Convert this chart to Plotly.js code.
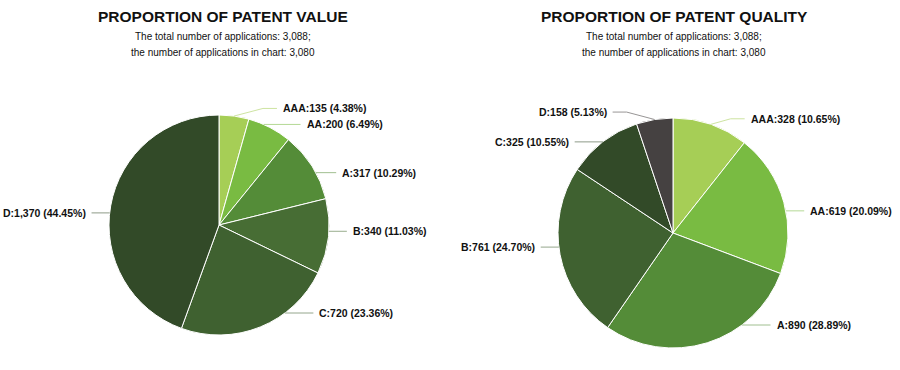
<!DOCTYPE html>
<html>
<head>
<meta charset="utf-8">
<script src="https://cdn.plot.ly/plotly-3.0.1.min.js"></script>
<style>html,body{margin:0;padding:0;background:#fff;}#chart{width:900px;height:370px;}</style>
</head>
<body>
<div id="chart"></div>
<script>
const categories = ['AAA', 'AA', 'A', 'B', 'C', 'D'];
const valueCounts = [135, 200, 317, 340, 720, 1370];
const valuePcts = ['4.38%', '6.49%', '10.29%', '11.03%', '23.36%', '44.45%'];
const qualityCounts = [328, 619, 890, 761, 325, 158];
const qualityPcts = ['10.65%', '20.09%', '28.89%', '24.70%', '10.55%', '5.13%'];
const valueColors = ['#a6ce56', '#79bb42', '#548c38', '#476d34', '#3f6130', '#324a28'];
const qualityColors = ['#a6ce56', '#79bb42', '#548c38', '#3f6130', '#324a28', '#454141'];
const titles = ['PROPORTION OF PATENT VALUE', 'PROPORTION OF PATENT QUALITY'];
const subtitleLines = ['The total number of applications: 3,088;', 'the number of applications in chart: 3,080'];

const W = 900, H = 370;
const FONT = 'Liberation Sans, Arial, Helvetica, sans-serif';
// pie geometry (pixels): center and radius
const pies = [
  {cx: 219, cy: 225, r: 110, titleX: 223},
  {cx: 673, cy: 233, r: 115, titleX: 674}
];
const px2x = p => p / W;
const px2y = p => 1 - p / H;

function fmt(n) { return n.toLocaleString('en-US'); }

function layoutLabels(counts, pcts, colors, g) {
  const total = counts.reduce((a, b) => a + b, 0);
  let cum = 0;
  const items = counts.map((c, i) => {
    const a0 = cum / total * 360; cum += c; const a1 = cum / total * 360;
    const mid = (a0 + a1) / 2;
    const rad = mid * Math.PI / 180;
    const cs = Math.cos(rad);
    let y = g.cy - (g.r + 8) * Math.sign(cs) * Math.pow(Math.abs(cs), 1.3);
    y = Math.max(g.cy - g.r - 12, Math.min(g.cy + 0.8 * g.r, y));
    return {i, a0, a1, mid, rad, side: mid < 180 ? 1 : -1, y};
  });
  const gap = 16;
  [1, -1].forEach(s => {
    const arr = items.filter(it => it.side === s).sort((a, b) => a.y - b.y);
    for (let k = 1; k < arr.length; k++) arr[k].y = Math.max(arr[k].y, arr[k - 1].y + gap);
    const bottom = g.cy + 0.8 * g.r;
    if (arr.length && arr[arr.length - 1].y > bottom) {
      arr[arr.length - 1].y = bottom;
      for (let k = arr.length - 2; k >= 0; k--) arr[k].y = Math.min(arr[k].y, arr[k + 1].y - gap);
    }
  });
  const anns = [], shapes = [];
  const R = g.r + 22;
  items.forEach(it => {
    const dy = it.y - g.cy;
    const tx = g.cx + it.side * Math.sqrt(Math.max(0, R * R - dy * dy));
    const endX = tx - it.side * 4;
    let path;
    let horiz = false;
    if (Math.abs(dy) < g.r - 2) {
      const pxx = g.cx + it.side * Math.sqrt(g.r * g.r - dy * dy);
      let ang = Math.atan2(pxx - g.cx, -dy) * 180 / Math.PI;
      if (ang < 0) ang += 360;
      if (ang >= it.a0 && ang <= it.a1) {
        horiz = true;
        path = `M ${px2x(pxx)} ${px2y(it.y)} L ${px2x(endX)} ${px2y(it.y)}`;
      }
    }
    if (!horiz) {
      const ex = g.cx + g.r * Math.sin(it.rad), ey = g.cy - g.r * Math.cos(it.rad);
      const elbowX = endX - it.side * 14;
      path = `M ${px2x(ex)} ${px2y(ey)} L ${px2x(elbowX)} ${px2y(it.y)} L ${px2x(endX)} ${px2y(it.y)}`;
    }
    shapes.push({type: 'path', xref: 'paper', yref: 'paper', path,
      line: {color: colors[it.i], width: 1}, opacity: 0.55});
    anns.push({xref: 'paper', yref: 'paper', x: px2x(tx), y: px2y(it.y),
      xanchor: it.side > 0 ? 'left' : 'right', yanchor: 'middle', showarrow: false,
      text: '<b>' + categories[it.i] + ':' + fmt(counts[it.i]) + ' (' + pcts[it.i] + ')</b>',
      font: {family: FONT, size: 10.5, color: '#111'}});
  });
  return {anns, shapes};
}

function pieTrace(counts, colors, g) {
  return {
    type: 'pie', values: counts, labels: categories, sort: false,
    direction: 'clockwise', rotation: 0, textinfo: 'none', hoverinfo: 'label+value+percent',
    marker: {colors: colors, line: {color: '#ffffff', width: 1}},
    domain: {x: [px2x(g.cx - g.r), px2x(g.cx + g.r)], y: [px2y(g.cy + g.r), px2y(g.cy - g.r)]},
    showlegend: false
  };
}

const L1 = layoutLabels(valueCounts, valuePcts, valueColors, pies[0]);
const L2 = layoutLabels(qualityCounts, qualityPcts, qualityColors, pies[1]);

const titleAnns = [];
pies.forEach((g, k) => {
  titleAnns.push({xref: 'paper', yref: 'paper', x: px2x(g.titleX), y: px2y(17), xanchor: 'center', yanchor: 'middle',
    showarrow: false, text: '<b>' + titles[k] + '</b>', font: {family: FONT, size: 15.5, color: '#111'}});
  subtitleLines.forEach((line, j) => {
    titleAnns.push({xref: 'paper', yref: 'paper', x: px2x(g.titleX), y: px2y(36 + 16 * j), xanchor: 'center', yanchor: 'middle',
      showarrow: false, text: line, font: {family: FONT, size: 10, color: '#111'}});
  });
});

const layout = {
  width: W, height: H, margin: {l: 0, r: 0, t: 0, b: 0},
  paper_bgcolor: '#ffffff', plot_bgcolor: '#ffffff',
  annotations: titleAnns.concat(L1.anns, L2.anns),
  shapes: L1.shapes.concat(L2.shapes),
  font: {family: FONT}
};

Plotly.newPlot('chart', [pieTrace(valueCounts, valueColors, pies[0]), pieTrace(qualityCounts, qualityColors, pies[1])], layout, {displayModeBar: false, staticPlot: true});
</script>
</body>
</html>
